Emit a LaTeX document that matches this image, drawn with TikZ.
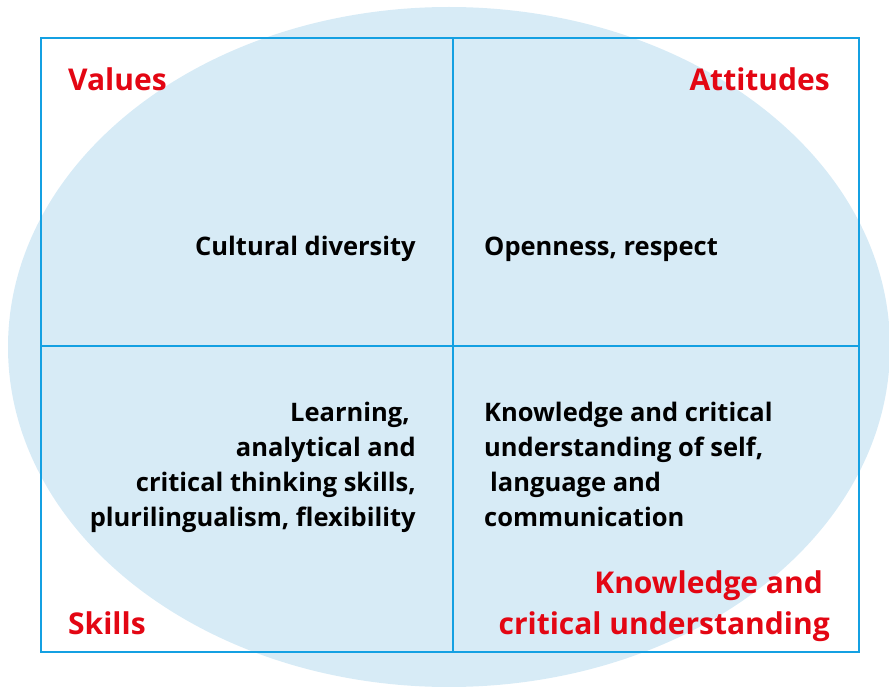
\documentclass[tikz,border=0pt]{standalone}
\usepackage{fontspec}
\setmainfont{Open Sans}
\usetikzlibrary{positioning}
\definecolor{frameblue}{RGB}{20,160,226}
\definecolor{ovalblue}{RGB}{215,235,246}
\definecolor{labelred}{RGB}{227,6,19}
\tikzset{
    corner/.style={text=labelred, font=\bfseries\fontsize{30}{41}\selectfont, inner sep=0pt},
    content/.style={text=black, font=\bfseries\fontsize{25.5}{35}\selectfont, inner sep=0pt},
}
\begin{document}
\begin{tikzpicture}[x=1pt, y=-1pt]
    \useasboundingbox (0,0) rectangle (889,687);
    \coordinate (O) at (449,347);
    \pgfmathsetmacro{\Rx}{441}  % units of points
    \pgfmathsetmacro{\Ry}{340}  % units of points
    % the oval behind the grid
    \fill[ovalblue] (O) ellipse [x radius=\Rx, y radius=\Ry];
    % the four quadrants
    \draw[frameblue, line width=2.2pt] (41,38) rectangle (859,652);
    \draw[frameblue, line width=2.2pt] (453,38) -- (453,652);
    \draw[frameblue, line width=2.2pt] (41,346) -- (859,346);
    % corner labels
    \node[corner, anchor=base west] (values) at (68,91) {Values};
    \node[corner, anchor=base east] (attitudes) at (830,91) {Attitudes};
    \node[corner, anchor=base west] (skills) at (68,634) {Skills};
    \node[corner, anchor=base east, align=right] (knowledge) at (830,634)
        {Knowledge and\hspace*{7pt}\\critical understanding};
    % quadrant contents
    \node[content, anchor=base east] (diversity) at (416,255) {Cultural diversity};
    \node[content, anchor=base west] (openness) at (484,255) {Openness, respect};
    \node[content, anchor=base east, align=right] (learning) at (416,526)
        {Learning,\hspace*{6pt}\\analytical and\hspace*{7pt}\\critical thinking skills,\\plurilingualism, flexibility};
    \node[content, anchor=base west, align=left] (understanding) at (484,526)
        {Knowledge and critical\\understanding of self,\\\hspace*{6pt}language and\\communication};
\end{tikzpicture}
\end{document}
